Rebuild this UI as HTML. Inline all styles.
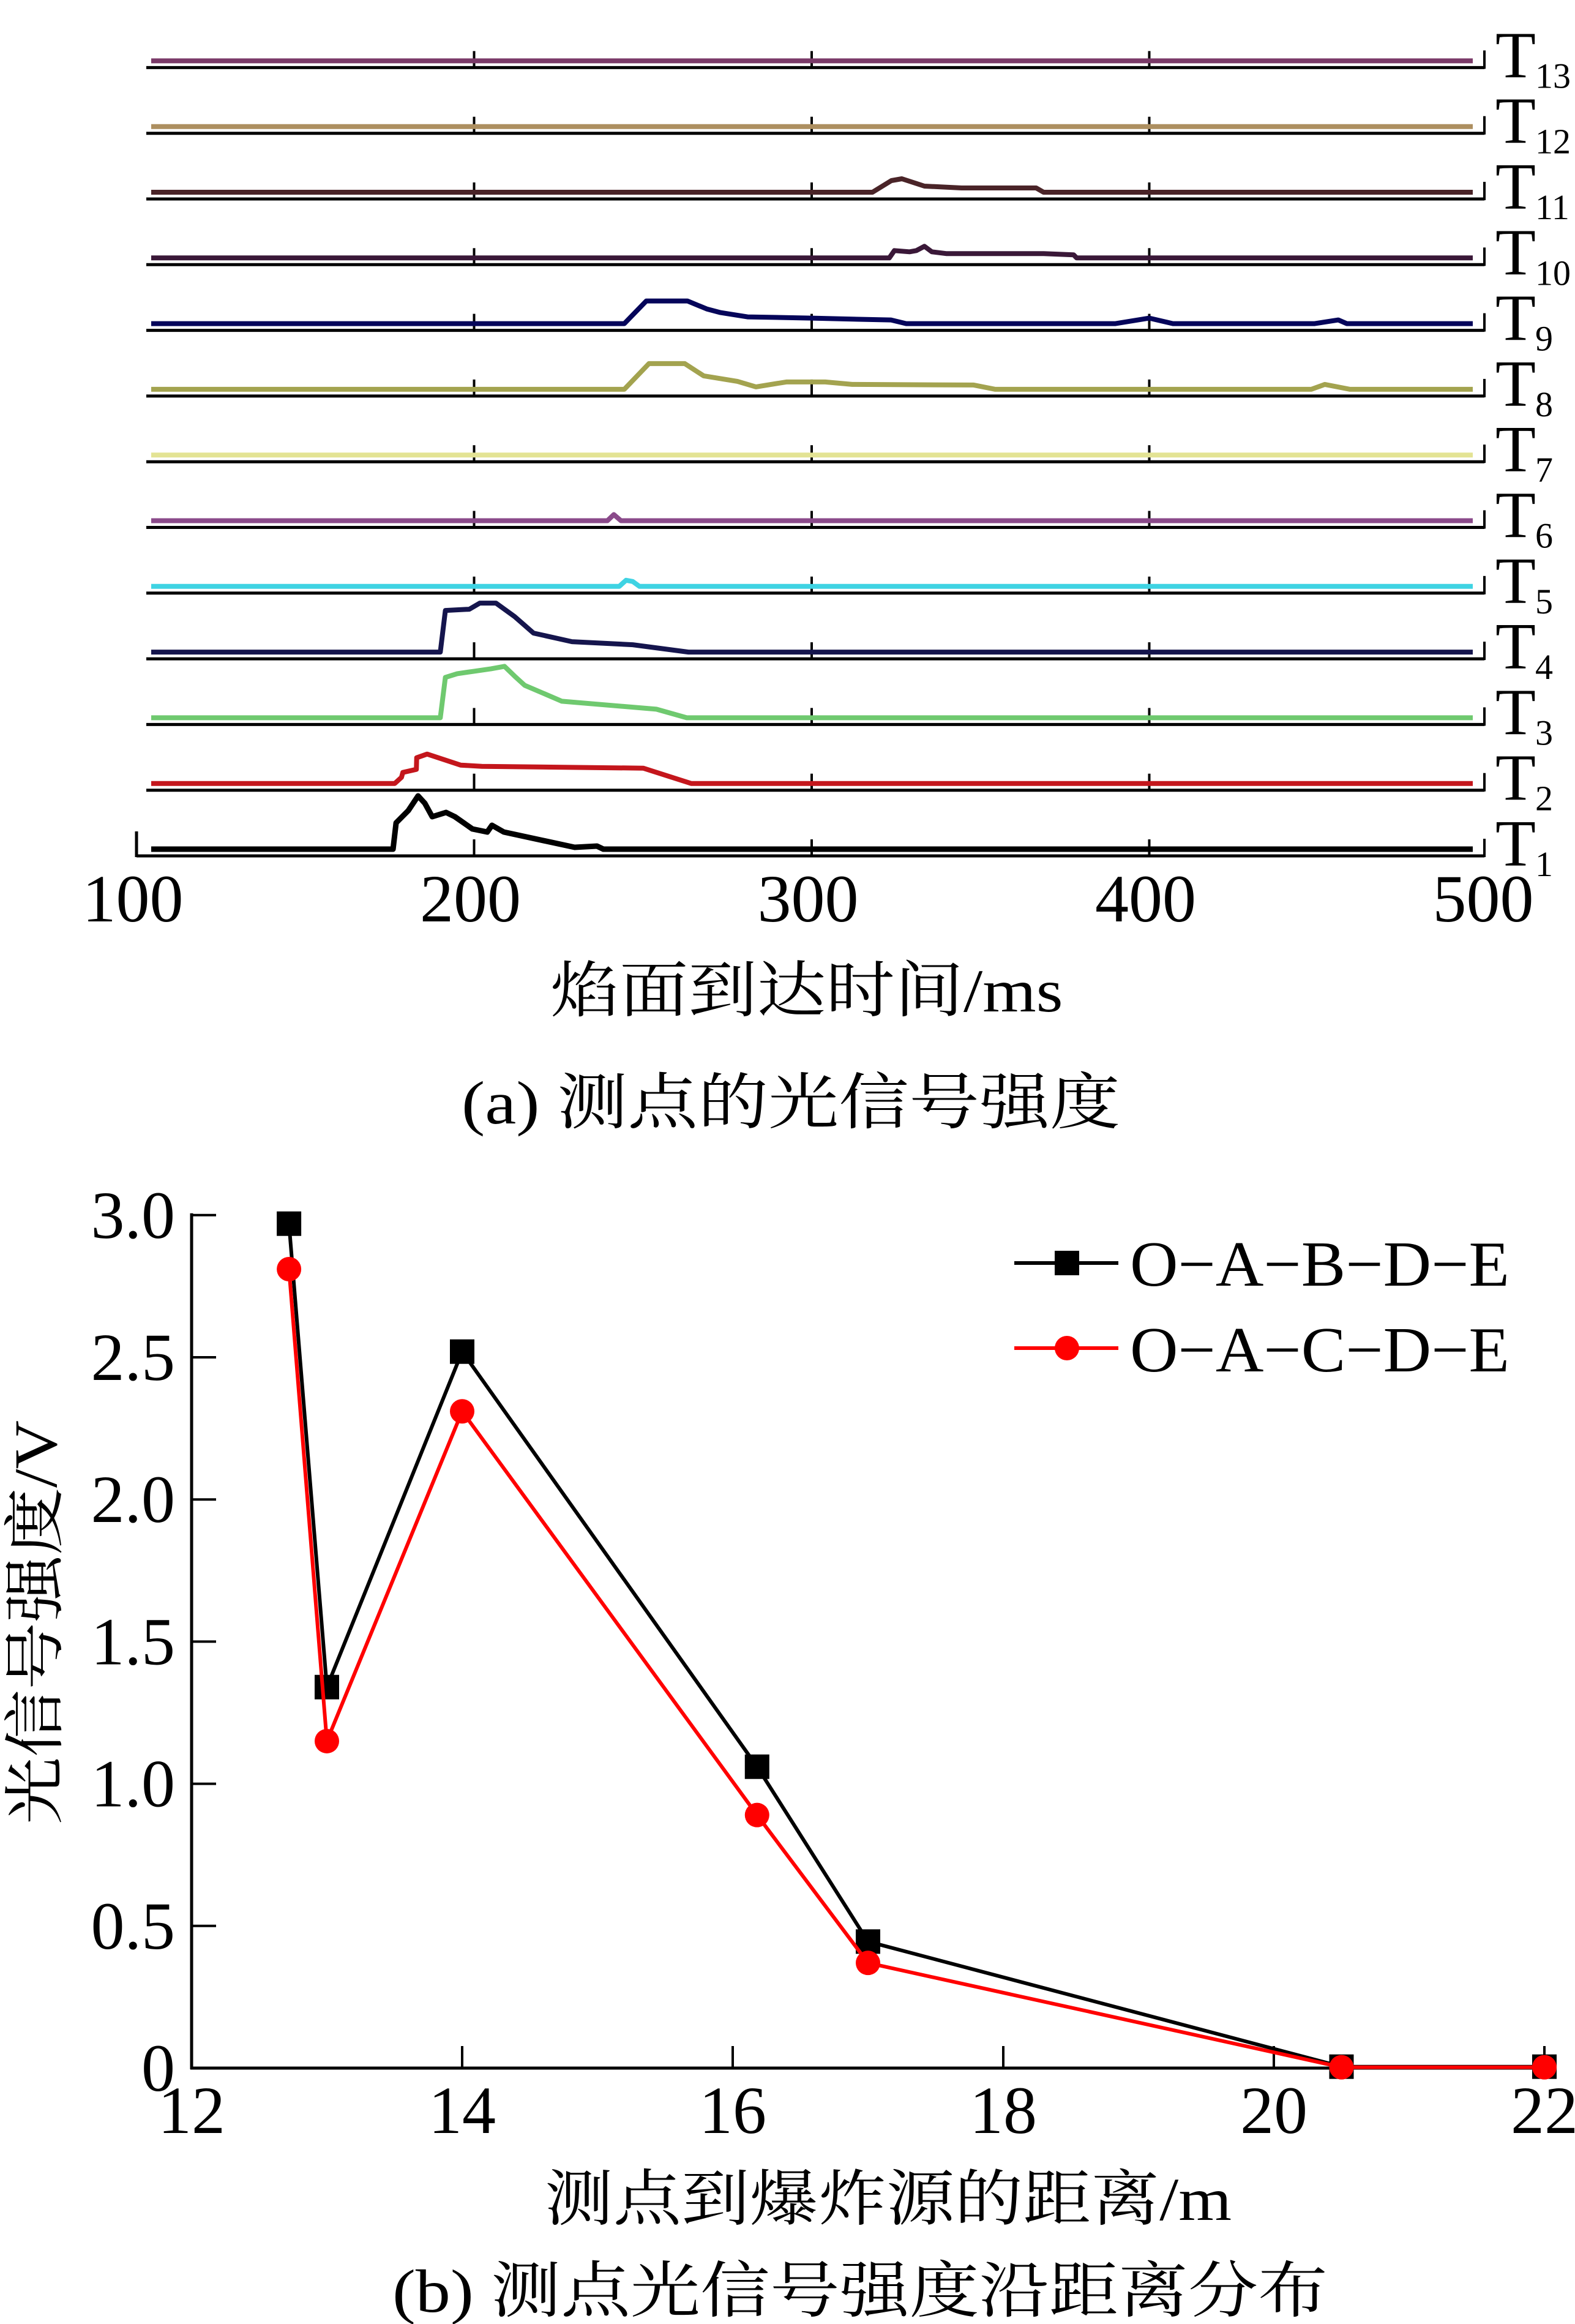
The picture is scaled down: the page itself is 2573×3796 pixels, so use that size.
<!DOCTYPE html>
<html><head><meta charset="utf-8">
<style>
html,body{margin:0;padding:0;background:#fff;}
svg{display:block;}
text{font-family:"Liberation Serif","Noto Serif CJK SC","Noto Sans CJK SC",serif;fill:#000;}
</style></head>
<body>
<svg id="fig" xmlns="http://www.w3.org/2000/svg" width="2573" height="3796" viewBox="0 0 2573 3796">
<g id="topPanel"></g>
<g id="botPanel"></g>
</svg>
<script>
// ===== Panel (a) data: time (ms) and signal amplitude (V) per measuring point =====
const traceNames = ["T1","T2","T3","T4","T5","T6","T7","T8","T9","T10","T11","T12","T13"];
const traceColors = ["#000000","#c4161c","#6fc96f","#15154d","#3fd3e3","#8a4a8a","#e3e394","#a3a34f","#05055a","#3a1838","#4a2428","#ad8f60","#7a3a68"];
const t1Time = [176.0,176.9,180.5,183.4,185.4,187.6,191.7,194.3,199.5,203.9,205.3,208.8,229.8,236.4,238.3];
const t1Amp  = [0,0.43,0.63,0.87,0.75,0.53,0.60,0.53,0.33,0.28,0.39,0.28,0.03,0.05,0];
const t2Time = [176.5,178.5,178.9,182.9,183.0,186.1,196.0,202.3,250.1,264.3];
const t2Amp  = [0,0.10,0.18,0.23,0.42,0.48,0.30,0.28,0.25,0];
const t3Time = [190,191.5,195,200,205,209,212,215,226,254,263];
const t3Amp  = [0,0.66,0.72,0.76,0.80,0.84,0.68,0.53,0.27,0.14,0];
const t4Time = [190,191.5,198.6,201.7,206.5,212,217.6,229,247,263.5];
const t4Amp  = [0,0.68,0.70,0.80,0.80,0.58,0.31,0.17,0.12,0];
const t5Time = [243,245,247,249];
const t5Amp  = [0,0.10,0.08,0];
const t6Time = [239.5,241.4,243.5];
const t6Amp  = [0,0.10,0];
const t7Time = [];
const t7Amp  = [];
const t8Time = [244.5,251.8,262.4,268,278,283.5,292.5,304,312,348,354.4,448,452,459.5];
const t8Amp  = [0,0.42,0.42,0.22,0.13,0.04,0.12,0.12,0.08,0.07,0,0,0.08,0];
const t9Time = [244.5,251,263.2,268.9,273,281,300,315,323.5,328,390,400,407,449,456,458.5];
const t9Amp  = [0,0.37,0.37,0.24,0.18,0.11,0.09,0.07,0.06,0,0,0.09,0,0,0.06,0];
const t10Time = [323,324.5,329,331,333.4,335.6,340,368.7,377.6,378.5];
const t10Amp  = [0,0.12,0.10,0.12,0.19,0.10,0.07,0.07,0.05,0];
const t11Time = [318,323.6,326.7,333.4,344.4,366.5,368.7];
const t11Amp  = [0,0.19,0.22,0.10,0.07,0.07,0];
const t12Time = [];
const t12Amp  = [];
const t13Time = [];
const t13Amp  = [];
const traceTimes = [t1Time,t2Time,t3Time,t4Time,t5Time,t6Time,t7Time,t8Time,t9Time,t10Time,t11Time,t12Time,t13Time];
const traceAmps  = [t1Amp,t2Amp,t3Amp,t4Amp,t5Amp,t6Amp,t7Amp,t8Amp,t9Amp,t10Amp,t11Amp,t12Amp,t13Amp];
const timeTicks = [100,200,300,400,500];

// ===== Panel (b) data =====
const distances = [12.72,13.0,14.0,16.18,17.0,20.5,22.0];
const seriesABDE = [2.97,1.34,2.52,1.06,0.445,0.005,0.005];
const seriesACDE = [2.81,1.15,2.31,0.89,0.37,0.003,0.003];
const xTicks = [12,14,16,18,20,22];
const yTicks = [0,0.5,1.0,1.5,2.0,2.5,3.0];
const yTickLabels = ["0","0.5","1.0","1.5","2.0","2.5","3.0"];

const NS = "http://www.w3.org/2000/svg";
function mk(parent, tag, attrs, txt){
  const e = document.createElementNS(NS, tag);
  for (const k in attrs) e.setAttribute(k, attrs[k]);
  if (txt !== undefined) e.textContent = txt;
  parent.appendChild(e);
  return e;
}

// ---------- Panel (a) ----------
const topG = document.getElementById('topPanel');
const tx = t => 223 + (t - 100) * 5.515;
const rowBase = i => 1398 - i * 107.3;
const ampScale = 100;
for (let i = 0; i < traceNames.length; i++) {
  const B = rowBase(i);
  const x0 = i === 0 ? 223 : 239;
  const base = mk(topG, 'line', {x1:x0, y1:B, x2:2425, y2:B, stroke:'#000', 'stroke-width':5});
  
  
  const rt = mk(topG, 'line', {x1:2425, y1:B-28, x2:2425, y2:B+2, stroke:'#000', 'stroke-width':4});
  
  
  [200,300,400].forEach(t => {
    const tk = mk(topG, 'line', {x1:tx(t), y1:B-27, x2:tx(t), y2:B, stroke:'#000', 'stroke-width':4});
    
    
  });
  const y0 = B - 11;
  let pts = [[247, y0]];
  const ts = traceTimes[i], as = traceAmps[i];
  for (let k = 0; k < ts.length; k++) pts.push([tx(ts[k]), y0 - as[k] * ampScale]);
  pts.push([2406, y0]);
  const pl = mk(topG, 'polyline', {points: pts.map(p => p[0].toFixed(1)+','+p[1].toFixed(1)).join(' '), fill:'none', stroke:traceColors[i], 'stroke-width': i===0?9:8, 'stroke-linejoin':'round'});
  
  
  const lab = mk(topG, 'text', {x:2443, y:B+16, 'font-size':108});
  
  
  lab.appendChild(document.createTextNode('T'));
  mk(lab, 'tspan', {x:2508, y:B+33, 'font-size':58}, traceNames[i].slice(1));
}
const lt = mk(topG, 'line', {x1:223, y1:1358, x2:223, y2:1400, stroke:'#000', 'stroke-width':5});


timeTicks.forEach(t => {
  const e = mk(topG, 'text', {x:tx(t)-6, y:1505, 'font-size':110, 'text-anchor':'middle'}, String(t));
  
  
});
const xa = mk(topG, 'text', {x:1318, y:1652, 'font-size':100, 'text-anchor':'middle', textLength:837, lengthAdjust:'spacingAndGlyphs'}, '焰面到达时间/ms');


const ca = mk(topG, 'text', {x:1292, y:1835, 'font-size':100, 'text-anchor':'middle', textLength:1076, lengthAdjust:'spacingAndGlyphs'}, '(a)  测点的光信号强度');



// ---------- Panel (b) ----------
const bot = document.getElementById('botPanel');
const bx = d => 313 + (d - 12) * 221;
const by = v => 3378 - v * 464.4;
const ax1 = mk(bot, 'line', {x1:313, y1:by(3.0)-3, x2:313, y2:3380, stroke:'#000', 'stroke-width':5});


const ax2 = mk(bot, 'line', {x1:311, y1:3378, x2:2525, y2:3378, stroke:'#000', 'stroke-width':5});


yTicks.forEach((v, k) => {
  const tk = mk(bot, 'line', {x1:313, y1:by(v), x2:353, y2:by(v), stroke:'#000', 'stroke-width':4});
  
  
  const e = mk(bot, 'text', {x:286, y:by(v)+37, 'font-size':110, 'text-anchor':'end'}, yTickLabels[k]);
  
  
});
xTicks.forEach(d => {
  const tk = mk(bot, 'line', {x1:bx(d), y1:3378, x2:bx(d), y2:3342, stroke:'#000', 'stroke-width':4});
  
  
  const e = mk(bot, 'text', {x:bx(d), y:3484, 'font-size':110, 'text-anchor':'middle'}, String(d));
  
  
});
function drawSeries(vals, color, marker, name){
  const pts = distances.map((d,k) => bx(d).toFixed(1)+','+by(vals[k]).toFixed(1)).join(' ');
  const pl = mk(bot, 'polyline', {points:pts, fill:'none', stroke:color, 'stroke-width':6, 'stroke-linejoin':'miter'});
  
  
  distances.forEach((d,k) => {
    let m;
    if (marker === 'square') m = mk(bot, 'rect', {x:bx(d)-20, y:by(vals[k])-20, width:40, height:40, fill:color});
    else m = mk(bot, 'circle', {cx:bx(d), cy:by(vals[k]), r:20, fill:color});
    
    
  });
}
drawSeries(seriesABDE, '#000000', 'square', 'o-a-b-d-e');
drawSeries(seriesACDE, '#ff0000', 'circle', 'o-a-c-d-e');
// legend
const lg = mk(bot, 'g', {});


const l1 = mk(lg, 'line', {x1:1657, y1:2063, x2:1827, y2:2063, stroke:'#000', 'stroke-width':6});


const m1 = mk(lg, 'rect', {x:1723, y:2043, width:40, height:40, fill:'#000'});


const lt1 = mk(lg, 'text', {x:1846, y:2100, 'font-size':105, textLength:620, lengthAdjust:'spacingAndGlyphs'}, 'O−A−B−D−E');


const l2 = mk(lg, 'line', {x1:1657, y1:2202, x2:1827, y2:2202, stroke:'#ff0000', 'stroke-width':6});


const m2 = mk(lg, 'circle', {cx:1743, cy:2202, r:20, fill:'#ff0000'});


const lt2 = mk(lg, 'text', {x:1846, y:2240, 'font-size':105, textLength:620, lengthAdjust:'spacingAndGlyphs'}, 'O−A−C−D−E');


const yt = mk(bot, 'text', {x:0, y:0, 'font-size':100, 'text-anchor':'middle', textLength:660, lengthAdjust:'spacingAndGlyphs', transform:'translate(92,2650) rotate(-90)'}, '光信号强度/V');


const xt = mk(bot, 'text', {x:1451, y:3626, 'font-size':100, 'text-anchor':'middle', textLength:1122, lengthAdjust:'spacingAndGlyphs'}, '测点到爆炸源的距离/m');


const cb = mk(bot, 'text', {x:1405, y:3776, 'font-size':100, 'text-anchor':'middle', textLength:1528, lengthAdjust:'spacingAndGlyphs'}, '(b)  测点光信号强度沿距离分布');


</script>
</body></html>
